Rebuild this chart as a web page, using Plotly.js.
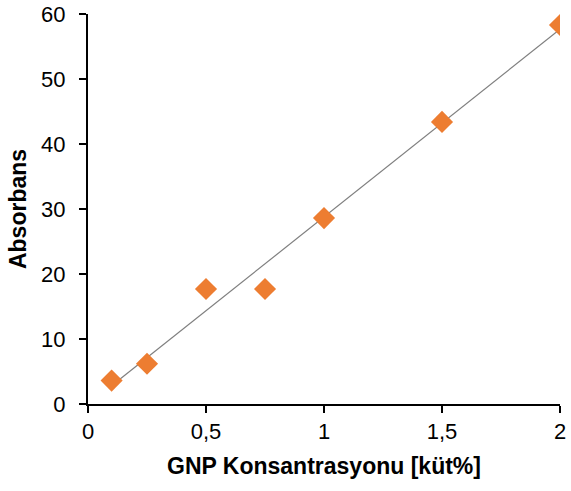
<!DOCTYPE html>
<html>
<head>
<meta charset="utf-8">
<script src="https://cdn.plot.ly/plotly-3.0.1.min.js"></script>
<style>html,body{margin:0;padding:0;background:#fff;}#chart{width:571px;height:491px;}</style>
</head>
<body>
<div id="chart"></div>
<script>
// Data
const concentration = [0.1, 0.25, 0.5, 0.75, 1, 1.5, 2];
const absorbance = [3.6, 6.2, 17.7, 17.7, 28.6, 43.4, 58.3];
const xTickVals = [0, 0.5, 1, 1.5, 2];
const yTickVals = [0, 10, 20, 30, 40, 50, 60];

// Linear trendline (least squares) from the data
const n = concentration.length;
const mx = concentration.reduce((a, b) => a + b, 0) / n;
const my = absorbance.reduce((a, b) => a + b, 0) / n;
let sxx = 0, sxy = 0;
for (let i = 0; i < n; i++) {
  sxx += (concentration[i] - mx) ** 2;
  sxy += (concentration[i] - mx) * (absorbance[i] - my);
}
const slope = sxy / sxx;
const intercept = my - slope * mx;
const trendX = [Math.min(...concentration), Math.max(...concentration)];
const trendY = trendX.map(x => intercept + slope * x);

const font = 'Liberation Sans, Arial, sans-serif';

const traces = [
  {
    x: trendX, y: trendY, type: 'scatter', mode: 'lines',
    line: {color: '#7f7f7f', width: 1.2}, hoverinfo: 'skip', showlegend: false
  },
  {
    x: concentration, y: absorbance, type: 'scatter', mode: 'markers',
    marker: {symbol: 'diamond', size: 17, color: '#ED7D31'}, showlegend: false
  }
];

const layout = {
  width: 571, height: 491,
  margin: {l: 88, r: 11, t: 14, b: 87},
  paper_bgcolor: '#fff', plot_bgcolor: '#fff',
  separators: ',.',
  font: {family: font, size: 22, color: '#000'},
  xaxis: {
    range: [0, 2], tickvals: xTickVals, showgrid: false, zeroline: false,
    showline: true, linecolor: '#000', linewidth: 2,
    ticks: 'outside', ticklen: 7, tickwidth: 2, tickcolor: '#000',
    tickfont: {family: font, size: 22, color: '#000'},
    title: {text: 'GNP Konsantrasyonu [küt%]', font: {family: font, size: 23, color: '#000', weight: 'bold'}, standoff: 14}
  },
  yaxis: {
    range: [0, 60], tickvals: yTickVals, showgrid: false, zeroline: false,
    showline: true, linecolor: '#000', linewidth: 2,
    ticks: 'outside', ticklen: 7, tickwidth: 2, tickcolor: '#000',
    ticklabelstandoff: 9,
    tickfont: {family: font, size: 22, color: '#000'},
    title: {text: 'Absorbans', font: {family: font, size: 23, color: '#000', weight: 'bold'}, standoff: 8}
  }
};

Plotly.newPlot('chart', traces, layout, {displayModeBar: false, staticPlot: true});
</script>
</body>
</html>
